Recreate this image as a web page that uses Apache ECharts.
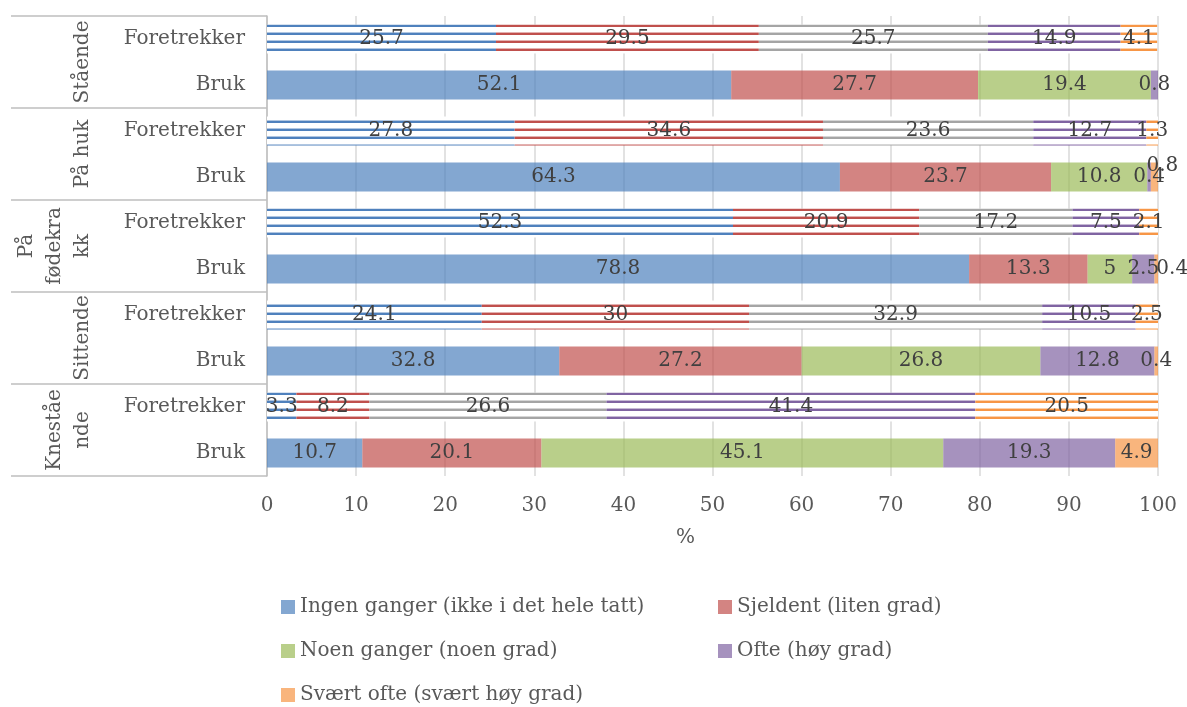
<!DOCTYPE html>
<html>
<head>
<meta charset="utf-8">
<script src="https://cdn.jsdelivr.net/npm/echarts@6/dist/echarts.min.js"></script>
<style>
  html, body { margin: 0; padding: 0; background: #fff; }
  #chart { width: 1187px; height: 707px; }
</style>
</head>
<body>
<div id="chart"></div>
<script>
// Position groups (outer axis level) and row types (inner axis level)
const groups = ['Stående', 'På huk', 'På fødekrakk', 'Sittende', 'Knestående'];
const groupLabels = ['Stående', 'På huk', 'På\nfødekra\nkk', 'Sittende', 'Kneståe\nnde'];
const rowTypes = ['Foretrekker', 'Bruk'];

// Answer levels (legend order)
const levels = [
  'Ingen ganger (ikke i det hele tatt)',
  'Sjeldent (liten grad)',
  'Noen ganger (noen grad)',
  'Ofte (høy grad)',
  'Svært ofte (svært høy grad)'
];

// Percentages per group, "Foretrekker" (F) and "Bruk" (B)
const ingenF    = [25.7, 27.8, 52.3, 24.1, 3.3];
const ingenB    = [52.1, 64.3, 78.8, 32.8, 10.7];
const sjeldentF = [29.5, 34.6, 20.9, 30, 8.2];
const sjeldentB = [27.7, 23.7, 13.3, 27.2, 20.1];
const noenF     = [25.7, 23.6, 17.2, 32.9, 26.6];
const noenB     = [19.4, 10.8, 5, 26.8, 45.1];
const ofteF     = [14.9, 12.7, 7.5, 10.5, 41.4];
const ofteB     = [0.8, 0.4, 2.5, 12.8, 19.3];
const svaertF   = [4.1, 1.3, 2.1, 2.5, 20.5];
const svaertB   = [0, 0.8, 0.4, 0.4, 4.9];

const xTicks = [0, 10, 20, 30, 40, 50, 60, 70, 80, 90, 100];

// Styling
const solidColors = [
  'rgba(79,129,189,0.7)', 'rgba(192,80,77,0.7)', 'rgba(155,187,89,0.7)',
  'rgba(128,100,162,0.7)', 'rgba(247,150,70,0.7)'
];
const stripeColors = ['#4f81bd', '#c0504d', '#a5a5a5', '#8064a2', '#f79646'];
const FONT = '"DejaVu Serif", "Liberation Serif", serif';

// Horizontal line fill used for the "Foretrekker" bars
function stripes(color) {
  const c = document.createElement('canvas');
  c.width = 8; c.height = 8;
  const g = c.getContext('2d');
  g.fillStyle = '#ffffff';
  g.fillRect(0, 0, 8, 8);
  g.fillStyle = color;
  g.globalAlpha = 0.45;
  g.fillRect(0, 0, 8, 1);
  g.globalAlpha = 1;
  g.fillRect(0, 1, 8, 2);
  return c;
}

// Row categories, top to bottom
const rowCats = [];
groups.forEach(() => rowTypes.forEach(t => rowCats.push(t)));

// Labels nudged sideways where tiny segments sit at the bar end
const labelNudge = {
  '4-3': [8, -11],   // Svært ofte, På huk / Bruk
  '4-5': [16, 0]     // Svært ofte, På fødekrakk / Bruk
};

const pairs = [
  [ingenF, ingenB], [sjeldentF, sjeldentB], [noenF, noenB], [ofteF, ofteB], [svaertF, svaertB]
];

const series = levels.map((name, li) => {
  const [f, b] = pairs[li];
  const data = [];
  const pattern = { image: stripes(stripeColors[li]), repeat: 'repeat' };
  groups.forEach((g, gi) => {
    data.push({ value: f[gi], itemStyle: { color: pattern } });
    const item = { value: b[gi] };
    const nudge = labelNudge[li + '-' + (gi * 2 + 1)];
    if (nudge) item.label = { offset: nudge };
    data.push(item);
  });
  return {
    name,
    type: 'bar',
    stack: 'total',
    barWidth: 29,
    yAxisIndex: 0,
    itemStyle: { color: solidColors[li] },
    label: {
      show: true,
      position: 'inside',
      color: '#404040',
      fontSize: 20,
      fontFamily: FONT,
      formatter: p => (p.value === 0 ? '' : String(p.value))
    },
    emphasis: { disabled: true },
    data
  };
});

const legendText = { fontSize: 20, color: '#595959', fontFamily: FONT, lineHeight: 22 };
const legendBase = {
  orient: 'vertical',
  top: 596,
  padding: 0,
  itemWidth: 14,
  itemHeight: 14,
  itemGap: 22,
  icon: 'rect',
  selectedMode: false,
  textStyle: legendText
};

const chart = echarts.init(document.getElementById('chart'));
chart.setOption({
  animation: false,
  backgroundColor: '#ffffff',
  grid: { left: 267, right: 29, top: 16, bottom: 231, containLabel: false },
  xAxis: {
    type: 'value',
    min: 0,
    max: 100,
    interval: 10,
    name: '%',
    nameLocation: 'middle',
    nameGap: 52,
    nameTextStyle: { fontSize: 20, color: '#595959', fontFamily: FONT, padding: [0, 54, 0, 0] },
    axisLine: { show: false },
    axisTick: { show: false },
    axisLabel: {
      fontSize: 20, color: '#595959', fontFamily: FONT, margin: 20,
      formatter: v => (xTicks.indexOf(v) >= 0 ? String(v) : '')
    },
    splitLine: { show: true, lineStyle: { color: '#d9d9d9', width: 1.5 } }
  },
  yAxis: [
    {
      type: 'category',
      position: 'left',
      inverse: true,
      data: rowCats,
      axisLine: { show: true, lineStyle: { color: '#bfbfbf', width: 1.5 } },
      axisTick: { show: false },
      axisLabel: { interval: 0, fontSize: 20, color: '#595959', fontFamily: FONT, margin: 22 }
    },
    {
      type: 'category',
      position: 'left',
      inverse: true,
      data: groups,
      axisLine: { show: false },
      axisTick: { show: true, interval: 0, length: 256, lineStyle: { color: '#bfbfbf', width: 1.5 } },
      axisLabel: {
        interval: 0,
        hideOverlap: false,
        rotate: 90,
        margin: 170,
        fontSize: 20,
        lineHeight: 28,
        color: '#595959',
        fontFamily: FONT,
        formatter: (v, i) => groupLabels[i]
      }
    }
  ],
  legend: [
    Object.assign({ left: 281, data: [levels[0], levels[2], levels[4]] }, legendBase),
    Object.assign({ left: 718, data: [levels[1], levels[3]] }, legendBase)
  ],
  series
});
</script>
</body>
</html>
